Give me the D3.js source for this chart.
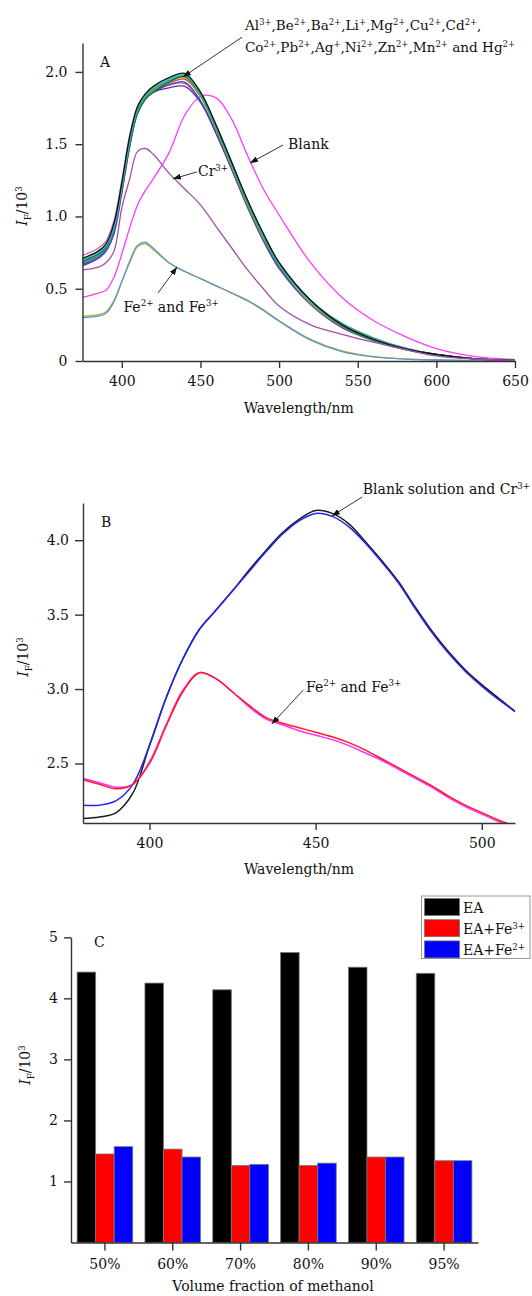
<!DOCTYPE html>
<html>
<head>
<meta charset="utf-8">
<script src="https://cdn.jsdelivr.net/npm/d3@7"></script>
<style>
body { margin: 0; background: #fff; }
text { font-family: "DejaVu Serif", serif; white-space: pre; }
</style>
</head>
<body>
<div id="chart"></div>
<script>
// ---- data: panel A (emission spectra with metal ions) ----
var wlA = [375,385,390,395,400,405,410,415,420,430,440,450,460,470,480,490,500,520,540,560,580,600,625,650];

var ionBlack  = [.71,.76,.81,.95,1.23,1.55,1.76,1.85,1.90,1.96,1.99,1.86,1.63,1.37,1.11,.88,.68,.42,.25,.15,.085,.045,.015,.005];
var ionCyan   = [.70,.75,.80,.93,1.21,1.53,1.75,1.84,1.89,1.95,1.98,1.85,1.62,1.36,1.10,.87,.67,.41,.25,.15,.08,.04,.015,.005];
var ionGreen  = [.68,.73,.78,.92,1.20,1.52,1.74,1.83,1.88,1.94,1.97,1.84,1.61,1.35,1.09,.86,.66,.41,.24,.14,.08,.04,.015,.005];
var ionOlive  = [.69,.74,.79,.92,1.19,1.50,1.72,1.82,1.87,1.93,1.96,1.83,1.60,1.34,1.08,.85,.66,.40,.24,.14,.08,.04,.015,.005];
var ionBlue   = [.67,.72,.77,.90,1.18,1.50,1.73,1.82,1.86,1.91,1.93,1.80,1.58,1.33,1.07,.84,.65,.40,.24,.14,.08,.04,.015,.005];
var ionRed    = [.70,.75,.80,.93,1.21,1.52,1.74,1.83,1.87,1.92,1.95,1.83,1.61,1.35,1.09,.86,.67,.41,.25,.15,.085,.045,.015,.005];
var ionPink   = [.73,.78,.83,.97,1.25,1.56,1.76,1.84,1.87,1.91,1.92,1.80,1.58,1.33,1.08,.85,.66,.40,.24,.14,.08,.04,.015,.005];
var ionPurple = [.66,.71,.76,.88,1.16,1.48,1.72,1.82,1.86,1.89,1.90,1.79,1.57,1.32,1.06,.83,.64,.39,.23,.14,.08,.04,.015,.005];
var ionDkGrn  = [.69,.74,.79,.91,1.18,1.49,1.71,1.81,1.86,1.93,1.97,1.85,1.63,1.37,1.11,.88,.68,.42,.25,.15,.085,.045,.015,.005];
var ionTeal   = [.68,.73,.78,.91,1.19,1.51,1.73,1.83,1.88,1.94,1.98,1.86,1.63,1.37,1.11,.88,.68,.42,.26,.16,.09,.045,.015,.005];

var blankA = [.44,.47,.49,.58,.74,.92,1.08,1.18,1.26,1.44,1.70,1.83,1.82,1.67,1.42,1.19,1.01,.68,.44,.28,.17,.085,.03,.01];
var crA    = [.63,.65,.68,.76,1.06,1.26,1.45,1.47,1.43,1.30,1.19,1.08,.93,.78,.63,.50,.38,.25,.185,.13,.08,.035,.012,.004];
var fe3A   = [.31,.32,.34,.42,.55,.68,.79,.81,.77,.68,.62,.57,.52,.47,.42,.355,.28,.15,.07,.03,.015,.008,.003,.001];
var fe2A   = [.30,.31,.33,.41,.55,.69,.80,.82,.78,.68,.62,.57,.52,.47,.415,.35,.275,.145,.065,.028,.013,.007,.003,.001];

var ticksAx = [400,450,500,550,600,650];
var ticksAy = [0,0.5,1,1.5,2];

// ---- data: panel B ----
var wlB = [380,385,390,395,400,405,410,415,420,425,430,435,440,445,450,455,460,465,470,475,480,485,490,495,500,505,510];
var blankB = [2.13,2.14,2.17,2.30,2.62,2.94,3.20,3.40,3.53,3.66,3.80,3.93,4.05,4.14,4.20,4.18,4.11,3.99,3.86,3.72,3.55,3.39,3.25,3.13,3.03,2.94,2.85];
var crB    = [2.22,2.22,2.25,2.36,2.62,2.94,3.20,3.40,3.53,3.66,3.79,3.92,4.04,4.13,4.18,4.16,4.09,3.98,3.85,3.71,3.54,3.38,3.24,3.12,3.02,2.93,2.85];
var fe3B   = [2.39,2.36,2.33,2.36,2.50,2.75,2.98,3.11,3.07,2.98,2.89,2.81,2.77,2.74,2.71,2.68,2.64,2.59,2.53,2.47,2.41,2.35,2.28,2.22,2.17,2.12,2.08];
var fe2B   = [2.40,2.37,2.34,2.36,2.51,2.76,2.99,3.11,3.07,2.98,2.88,2.80,2.76,2.72,2.69,2.66,2.62,2.57,2.52,2.46,2.40,2.34,2.27,2.21,2.16,2.11,2.07];
var ticksBx = [400,450,500];
var ticksBy = [2.5,3.0,3.5,4.0];

// ---- data: panel C ----
var fractions = ["50%","60%","70%","80%","90%","95%"];
var eaVals  = [4.43,4.25,4.14,4.75,4.51,4.41];
var fe3Vals = [1.45,1.53,1.26,1.26,1.40,1.34];
var fe2Vals = [1.57,1.40,1.28,1.30,1.40,1.34];
var seriesC = ["EA","EA+Fe^{3+}","EA+Fe^{2+}"];
var ticksCy = [1,2,3,4,5];

var fs = 14;

var svg = d3.select("#chart").append("svg")
    .attr("width", 532)
    .attr("height", 1296);
svg.append("rect").attr("width", 532).attr("height", 1296).attr("fill", "#fff");

var defs = svg.append("defs");
defs.append("marker")
    .attr("id", "arr")
    .attr("viewBox", "0 0 8 6")
    .attr("refX", 8).attr("refY", 3)
    .attr("markerWidth", 8).attr("markerHeight", 6)
    .attr("markerUnits", "userSpaceOnUse")
    .attr("orient", "auto")
  .append("path")
    .attr("d", "M0,0L8,3L0,6Z")
    .attr("fill", "#111");

// split "Fe^{2+}" style strings into tspans
function parts(s) {
  var out = [], re = /\^\{([^}]*)\}|_\{([^}]*)\}|\*([^*]*)\*/g, last = 0, m;
  while ((m = re.exec(s))) {
    if (m.index > last) out.push([s.slice(last, m.index), ""]);
    if (m[1] != null) out.push([m[1], "sup"]);
    else if (m[2] != null) out.push([m[2], "sub"]);
    else out.push([m[3], "i"]);
    last = re.lastIndex;
  }
  if (last < s.length) out.push([s.slice(last), ""]);
  return out;
}

function rich(sel, s, size) {
  var cur = 0;
  parts(s).forEach(function(p) {
    var off = p[1] == "sup" ? -size * 0.38 : p[1] == "sub" ? size * 0.28 : 0;
    var t = sel.append("tspan").attr("dy", off - cur).text(p[0]);
    cur = off;
    if (p[1] == "sup" || p[1] == "sub") t.attr("font-size", size * 0.62);
    if (p[1] == "i") t.attr("font-style", "italic");
  });
  return sel;
}

function label(x, y, s, anchor, size) {
  size = size || fs;
  var t = svg.append("text")
      .attr("x", x).attr("y", y)
      .attr("font-size", size)
      .attr("fill", "#111")
      .attr("text-anchor", anchor || "start");
  return rich(t, s, size);
}

function styleAxis(g) {
  g.selectAll("path, line").attr("stroke", "#333").attr("stroke-width", 1.4);
  g.selectAll("text")
      .attr("font-family", "DejaVu Serif, serif")
      .attr("font-size", fs)
      .attr("fill", "#111");
}

function yTitle(x, y) {
  var t = svg.append("text")
      .attr("transform", "translate(" + x + "," + y + ") rotate(-90)")
      .attr("text-anchor", "middle")
      .attr("font-size", fs)
      .attr("fill", "#111");
  rich(t, "*I*_{F}/10^{3}", fs);
}

function arrow(x1, y1, x2, y2) {
  svg.append("line")
      .attr("x1", x1).attr("y1", y1)
      .attr("x2", x2).attr("y2", y2)
      .attr("stroke", "#333")
      .attr("stroke-width", 1)
      .attr("marker-end", "url(#arr)");
}

// ================= Panel A =================
var xA = d3.scaleLinear().domain([375, 650]).range([82.5, 515]);
var yA = d3.scaleLinear().domain([0, 2.2]).range([361, 43]);

var lineA = d3.line()
    .x(function(d, i) { return xA(wlA[i]); })
    .y(function(d) { return yA(d); })
    .curve(d3.curveCatmullRom.alpha(0.5));

var curvesA = [
  [blankA, "#ff3cff"],
  [fe3A, "#b0b040"],
  [fe2A, "#5f96c8"],
  [ionPink, "#d855b0"],
  [ionPurple, "#6a2c9c"],
  [ionBlue, "#3050c8"],
  [ionRed, "#d03a3a"],
  [ionOlive, "#a8a828"],
  [ionGreen, "#2f9f3f"],
  [ionDkGrn, "#186a30"],
  [ionTeal, "#2c9a9a"],
  [ionCyan, "#30c8d0"],
  [ionBlack, "#111111"],
  [crA, "#a050a8"]
];

svg.append("g").selectAll("path")
  .data(curvesA)
  .enter().append("path")
    .attr("d", function(d) { return lineA(d[0]); })
    .attr("fill", "none")
    .attr("stroke", function(d) { return d[1]; })
    .attr("stroke-width", 1.3);

svg.append("g")
    .attr("transform", "translate(0,361)")
    .call(d3.axisBottom(xA).tickValues(ticksAx).tickSize(7).tickPadding(8).tickSizeOuter(0))
    .call(styleAxis);
svg.append("g")
    .attr("transform", "translate(82.5,0)")
    .call(d3.axisLeft(yA).tickValues(ticksAy).tickSize(7).tickPadding(8).tickSizeOuter(0)
      .tickFormat(function(d) { return d === 0 ? "0" : d3.format(".1f")(d); }))
    .call(styleAxis);

label(100, 67, "A");
label(xA(478.3), yA(2.29), "Al^{3+},Be^{2+},Ba^{2+},Li^{+},Mg^{2+},Cu^{2+},Cd^{2+},", "start", 13.6);
label(xA(478.3), yA(2.138), "Co^{2+},Pb^{2+},Ag^{+},Ni^{2+},Zn^{2+},Mn^{2+} and Hg^{2+}", "start", 13.6);
arrow(xA(476.4), yA(2.24), xA(438.9), yA(1.965));
label(xA(505.7), yA(1.467), "Blank");
arrow(xA(502.5), yA(1.494), xA(481.5), yA(1.37));
label(xA(448.4), yA(1.28), "Cr^{3+}");
arrow(xA(447.8), yA(1.308), xA(432.5), yA(1.26));
label(xA(401), yA(0.341), "Fe^{2+} and Fe^{3+}");
arrow(xA(423), yA(0.47), xA(435.1), yA(0.65));

label(298.75, 413, "Wavelength/nm", "middle");
yTitle(27, 206);

// ================= Panel B =================
var xB = d3.scaleLinear().domain([380, 510]).range([83, 515]);
var yB = d3.scaleLinear().domain([2.1, 4.25]).range([823, 503]);

defs.append("clipPath").attr("id", "clipB")
  .append("rect").attr("x", 83).attr("y", 500).attr("width", 440).attr("height", 323);

var lineB = d3.line()
    .x(function(d, i) { return xB(wlB[i]); })
    .y(function(d) { return yB(d); })
    .curve(d3.curveCatmullRom.alpha(0.5));

var curvesB = [
  [blankB, "#1a1a1a"],
  [crB, "#2424f0"],
  [fe2B, "#ff30ff"],
  [fe3B, "#ff1a2a"]
];

svg.append("g").attr("clip-path", "url(#clipB)").selectAll("path")
  .data(curvesB)
  .enter().append("path")
    .attr("d", function(d) { return lineB(d[0]); })
    .attr("fill", "none")
    .attr("stroke", function(d) { return d[1]; })
    .attr("stroke-width", 1.5);

svg.append("g")
    .attr("transform", "translate(0,823)")
    .call(d3.axisBottom(xB).tickValues(ticksBx).tickSize(7).tickPadding(8).tickSizeOuter(0))
    .call(styleAxis);
svg.append("g")
    .attr("transform", "translate(83,0)")
    .call(d3.axisLeft(yB).tickValues(ticksBy).tickSize(8).tickPadding(6).tickSizeOuter(0)
      .tickFormat(d3.format(".1f")))
    .call(styleAxis);

label(101, 527, "B");
label(xB(464.2), yB(4.31), "Blank solution and Cr^{3+}");
arrow(xB(464), yB(4.29), xB(454.9), yB(4.163));
label(xB(447.1), yB(2.982), "Fe^{2+} and Fe^{3+}");
arrow(xB(446.3), yB(2.994), xB(436.8), yB(2.765));

label(299, 874, "Wavelength/nm", "middle");
yTitle(28, 657);

// ================= Panel C =================
var x0 = d3.scaleBand().domain(fractions).range([71, 478]).paddingInner(0.18).paddingOuter(0.09);
var x1 = d3.scaleBand().domain(seriesC).range([0, x0.bandwidth()]);
var yC = d3.scaleLinear().domain([0, 5]).range([1242.5, 937.3]);
var colorC = d3.scaleOrdinal().domain(seriesC).range(["#000000", "#ff0000", "#0000ff"]);

var rows = fractions.map(function(f, i) {
  return { cat: f, vals: [eaVals[i], fe3Vals[i], fe2Vals[i]] };
});

svg.append("g").selectAll("g")
  .data(rows)
  .enter().append("g")
    .attr("transform", function(d) { return "translate(" + x0(d.cat) + ",0)"; })
  .selectAll("rect")
  .data(function(d) { return d.vals.map(function(v, j) { return { s: seriesC[j], v: v }; }); })
  .enter().append("rect")
    .attr("x", function(d) { return x1(d.s); })
    .attr("y", function(d) { return yC(d.v); })
    .attr("width", x1.bandwidth())
    .attr("height", function(d) { return yC(0) - yC(d.v); })
    .attr("fill", function(d) { return colorC(d.s); })
    .attr("stroke", "#777")
    .attr("stroke-width", 0.8);

svg.append("g")
    .attr("transform", "translate(0,1242.5)")
    .call(d3.axisBottom(x0).tickSize(8).tickPadding(9).tickSizeOuter(0))
    .call(styleAxis);
svg.append("g")
    .attr("transform", "translate(71,0)")
    .call(d3.axisLeft(yC).tickValues(ticksCy).tickSize(7).tickPadding(6).tickSizeOuter(0)
      .tickFormat(d3.format("d")))
    .call(styleAxis);

label(94, 947, "C");
label(273, 1291, "Volume fraction of methanol", "middle");
yTitle(30, 1065);

// legend
var leg = svg.append("g").attr("transform", "translate(421.5,896)");
leg.append("rect")
    .attr("width", 108.5).attr("height", 62.5)
    .attr("fill", "#fff").attr("stroke", "#999").attr("stroke-width", 1);
seriesC.forEach(function(s, j) {
  leg.append("rect")
      .attr("x", 3).attr("y", 2.5 + j * 21.2)
      .attr("width", 35).attr("height", 17)
      .attr("fill", colorC(s)).attr("stroke", "#777").attr("stroke-width", 0.8);
  var t = leg.append("text")
      .attr("x", 41.5).attr("y", 17 + j * 21.2)
      .attr("font-size", fs).attr("fill", "#111");
  rich(t, s, fs);
});
</script>
</body>
</html>
